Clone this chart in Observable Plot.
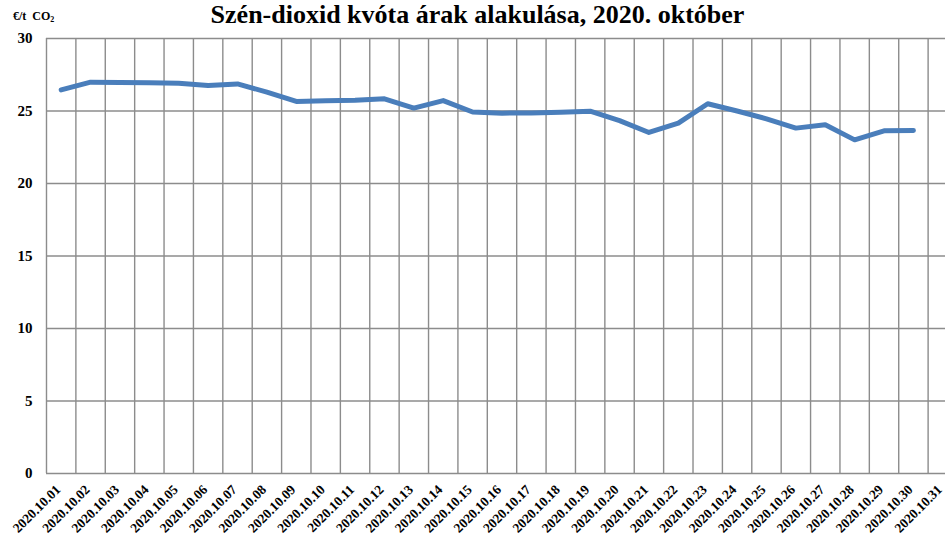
<!DOCTYPE html>
<html>
<head>
<meta charset="utf-8">
<script src="https://cdn.jsdelivr.net/npm/d3@7"></script>
<script src="https://cdn.jsdelivr.net/npm/@observablehq/plot@0.6"></script>
<style>
  html, body { margin: 0; padding: 0; background: #fff; overflow: hidden; width: 945px; height: 547px; }
  #head { position: relative; height: 30px; font-family: "Liberation Serif", "Times New Roman", serif; font-weight: bold; }
  #title { position: absolute; left: 0; width: 945px; top: 0px; text-align: center; font-size: 26px; line-height: 30px; padding-left: 10px; box-sizing: border-box; color: #000; white-space: nowrap; }
  #ylab { position: absolute; left: 13px; top: 9px; font-size: 12px; color: #000; }
  #ylab sub { font-size: 8px; vertical-align: -2px; }
  #chart svg { overflow: hidden; }
  #chart svg text { font-family: "Liberation Serif", "Times New Roman", serif; }
</style>
</head>
<body>
<div id="head">
  <div id="title">Szén-dioxid kvóta árak alakulása, 2020. október</div>
  <div id="ylab">€/t&nbsp; CO<sub>2</sub></div>
</div>
<div id="chart"></div>
<script>
// Tick labels (categories) for the x axis
const dates = [
  "2020.10.01","2020.10.02","2020.10.03","2020.10.04","2020.10.05","2020.10.06","2020.10.07",
  "2020.10.08","2020.10.09","2020.10.10","2020.10.11","2020.10.12","2020.10.13","2020.10.14",
  "2020.10.15","2020.10.16","2020.10.17","2020.10.18","2020.10.19","2020.10.20","2020.10.21",
  "2020.10.22","2020.10.23","2020.10.24","2020.10.25","2020.10.26","2020.10.27","2020.10.28",
  "2020.10.29","2020.10.30","2020.10.31"
];
// CO2 allowance price, €/t (2020.10.01 – 2020.10.30)
const prices = [
  26.46, 26.99, 26.97, 26.95, 26.92, 26.76, 26.87, 26.30, 25.66, 25.70,
  25.74, 25.84, 25.20, 25.72, 24.93, 24.85, 24.87, 24.91, 24.99, 24.34,
  23.52, 24.16, 25.50, 25.00, 24.46, 23.82, 24.05, 23.01, 23.63, 23.66
];
const yTicks = [0, 5, 10, 15, 20, 25, 30];

const data = prices.map((v, i) => ({day: i + 1, value: v}));
const dayIdx = dates.map((d, i) => i + 1);
const bounds = [...dates.map((d, i) => i + 0.5), dates.length + 0.5];

const font = "'Liberation Serif', 'Times New Roman', serif";

const chart = Plot.plot({
  width: 945,
  height: 517,
  marginTop: 8,
  marginBottom: 74,
  marginLeft: 46,
  marginRight: 0,
  style: {fontFamily: font, fontSize: "14px", fontWeight: "bold", color: "#000", background: "#fff"},
  x: {type: "linear", domain: [0.5, dates.length + 0.5], range: [46, 957]},
  y: {domain: [0, 30], ticks: yTicks},
  marks: [
    Plot.ruleY(yTicks, {stroke: "#8c8c8c", strokeWidth: 1.4}),
    Plot.ruleX(bounds, {stroke: "#8c8c8c", strokeWidth: 1.4}),
    Plot.axisY(yTicks, {tickSize: 0, tickPadding: 14, label: null, fontSize: 15, fontWeight: "bold"}),
    Plot.axisX(dayIdx, {tickSize: 0, tickPadding: 14, tickRotate: -45, label: null, dx: -3,
      tickFormat: d => dates[d - 1], fontSize: 13.5, fontWeight: "bold"}),
    Plot.line(data, {x: "day", y: "value", stroke: "#4a7ebb", strokeWidth: 5,
      strokeLinejoin: "round", strokeLinecap: "round"})
  ]
});
document.getElementById("chart").appendChild(chart);
</script>
</body>
</html>
